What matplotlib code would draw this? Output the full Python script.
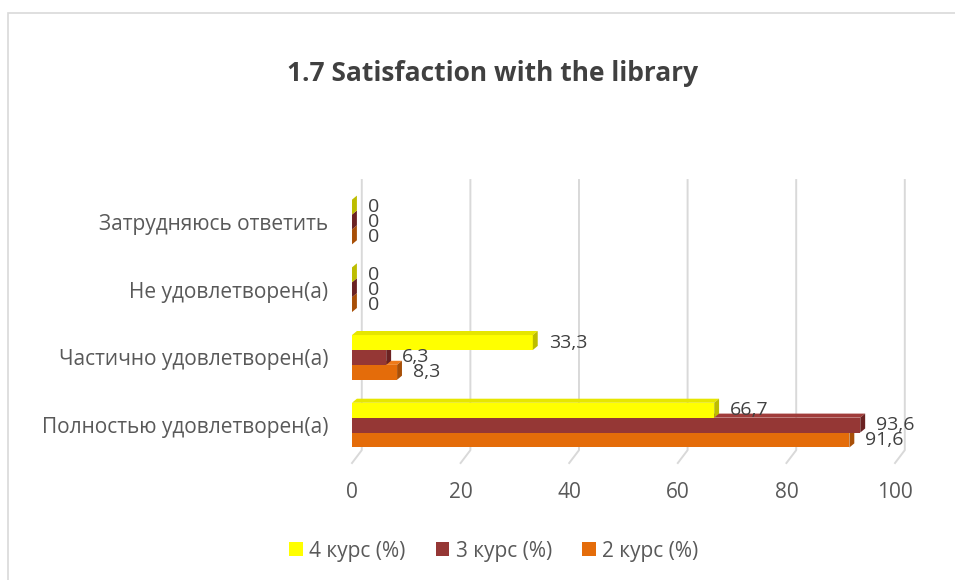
import numpy as np
import matplotlib
matplotlib.use("Agg")
import matplotlib.pyplot as plt
from matplotlib.patches import Polygon, Rectangle

plt.rcParams['font.family'] = ['Open Sans', 'DejaVu Sans']

# Data (categories listed bottom to top)
categories = ['Полностью удовлетворен(а)', 'Частично удовлетворен(а)',
              'Не удовлетворен(а)', 'Затрудняюсь ответить']
kurs4 = [66.7, 33.3, 0, 0]
kurs3 = [93.6, 6.3, 0, 0]
kurs2 = [91.6, 8.3, 0, 0]
series_names = ['4 курс (%)', '3 курс (%)', '2 курс (%)']
xticks = [0, 20, 40, 60, 80, 100]

# colours: front, top, side
front = ['#FFFF00', '#953735', '#E46C0A']
top_c = ['#E6E600', '#A03C3A', '#EE7A1A']
side_c = ['#BDBD00', '#6B2222', '#A84F07']

fig = plt.figure(figsize=(9.55, 5.8), dpi=100)
fig.patches.append(Rectangle((8 / 955, -0.1), 1.2, (580 - 13) / 580 + 0.1,
                             transform=fig.transFigure, fill=False,
                             edgecolor='#D9D9D9', linewidth=1.2))

ax = fig.add_axes([0.3686, 0.2017, 0.5686, 0.4879])
ax.set_xlim(0, 100)
ax.set_ylim(-0.56, 3.62)

# back wall + floor gridlines
gdx = 1.8
for v in xticks:
    ax.plot([v + gdx, v + gdx, v], [3.62, -0.37, -0.56], color='#D9D9D9',
            linewidth=1.4, zorder=0, clip_on=False)

y = np.arange(len(categories))
h = 0.22
dx, dy = 0.9, 0.06
all_series = [kurs4, kurs3, kurs2]
shifts = [h, 0, -h]

# draw bottom series first so upper bars cover their top faces
for i in [2, 1, 0]:
    vals = all_series[i]
    yy = y + shifts[i]
    ax.barh(yy, vals, height=h, color=front[i], zorder=2 + (2 - i),
            label=series_names[i])
    for v, c in zip(vals, yy):
        y0, y1 = c - h / 2, c + h / 2
        ax.add_patch(Polygon([(0, y1), (v, y1), (v + dx, y1 + dy), (dx, y1 + dy)],
                             closed=True, facecolor=top_c[i], edgecolor='none',
                             zorder=2 + (2 - i)))
        ax.add_patch(Polygon([(v, y0), (v, y1), (v + dx, y1 + dy), (v + dx, y0 + dy)],
                             closed=True, facecolor=side_c[i], edgecolor='none',
                             zorder=2 + (2 - i)))
        ax.annotate(f'{v:g}'.replace('.', ','), (v + dx, c), xytext=(8, 0),
                    textcoords='offset points', ha='left', va='center',
                    fontsize=14, color='#404040', zorder=10)

ax.set_yticks(y)
ax.set_yticklabels(categories)
ax.set_xticks(xticks)
ax.tick_params(axis='y', length=0, pad=17, labelsize=15, labelcolor='#595959')
ax.tick_params(axis='x', length=0, pad=14, labelsize=15, labelcolor='#595959')
for s in ax.spines.values():
    s.set_visible(False)

fig.text(0.516, 0.874, '1.7 Satisfaction with the library', ha='center',
         va='center', fontsize=19, fontweight='bold', color='#404040')

handles, labels = ax.get_legend_handles_labels()
order = [2, 1, 0]
fig.legend([handles[k] for k in order], [labels[k] for k in order],
           loc='center', bbox_to_anchor=(0.517, 0.05), ncol=3, frameon=False,
           fontsize=15, labelcolor='#595959', handlelength=0.65,
           handleheight=0.65, handletextpad=0.3, columnspacing=1.45)

fig.savefig('out.png', dpi=100)
